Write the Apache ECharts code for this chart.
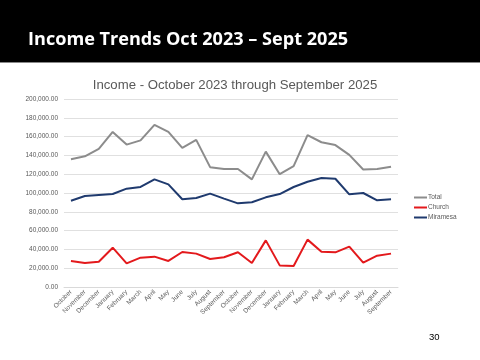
<!DOCTYPE html>
<html><head><meta charset="utf-8">
<script src="https://cdn.jsdelivr.net/npm/echarts@6/dist/echarts.min.js"></script>
<style>html,body{margin:0;padding:0;background:#fff}#c{width:480px;height:360px}</style>
</head><body><div id="c"></div>
<script>
const months = ["October","November","December","January","February","March","April","May","June","July","August","September",
                "October","November","December","January","February","March","April","May","June","July","August","September"];
const total = [136000,139000,147000,165000,151500,156000,172500,165000,148000,156500,127500,125500,125500,114500,144000,120000,128500,161500,154000,151000,140500,125000,125500,128000];
const church = [27700,25500,26900,41800,25200,31200,32300,27700,37200,35500,29800,31600,36900,25500,49600,23000,22300,50400,37600,36900,42900,25900,33300,35500];
const miramesa = [91800,96800,97900,98900,104600,106400,114500,109200,93300,94700,99300,94000,89000,90100,95400,98900,106400,112000,116000,115200,98600,100000,92200,93300];
const yTicks = {min:0, max:200000, interval:20000};

const chart = echarts.init(document.getElementById('c'), null, {renderer:'canvas'});
function fmt(v){return v.toLocaleString('en-US',{minimumFractionDigits:2,maximumFractionDigits:2});}
const lineStyle = (c)=>({type:'line', symbol:'none', lineStyle:{width:2, color:c}, itemStyle:{color:c}});
chart.setOption({
  animation:false,
  backgroundColor:'#fff',
  title:{text:'Income - October 2023 through September 2025', left:230, top:74, textAlign:'center',
    textStyle:{fontFamily:'Liberation Sans', fontSize:13.2, fontWeight:'normal', color:'#595959'}},
  graphic:[
    {type:'rect', shape:{x:0,y:0,width:480,height:62}, style:{fill:'#000'}},
    {type:'rect', shape:{x:0,y:62,width:480,height:1}, style:{fill:'#888'}},
    {type:'text', left:28, top:31, style:{text:'Income Trends Oct 2023 – Sept 2025', fill:'#fff', font:'bold 18.1px "Open Sans"'}},
    {type:'text', left:429, top:332, style:{text:'30', fill:'#000', font:'9.5px "Liberation Sans"'}}
  ],
  legend:{orient:'vertical', left:409, top:189, itemWidth:13, itemHeight:2, itemGap:3, icon:'rect',
    textStyle:{fontFamily:'Liberation Sans', fontSize:6.5, color:'#595959', padding:[0,0,0,-4]},
    data:['Total','Church','Miramesa']},
  grid:{left:64, right:82, top:99, bottom:73},
  xAxis:{type:'category', data:months, boundaryGap:true,
    axisLine:{lineStyle:{color:'#d9d9d9'}}, axisTick:{show:false},
    axisLabel:{rotate:45, interval:0, fontFamily:'Liberation Sans', fontSize:6.5, color:'#595959', margin:4}},
  yAxis:{type:'value', min:yTicks.min, max:yTicks.max, interval:yTicks.interval,
    axisLine:{show:false}, axisTick:{show:false},
    splitLine:{lineStyle:{color:'#e0e0e0', width:1}},
    axisLabel:{formatter:fmt, fontFamily:'Liberation Sans', fontSize:6.5, color:'#595959', margin:6}},
  series:[
    Object.assign({name:'Total', data:total}, lineStyle('#8c8c8c')),
    Object.assign({name:'Church', data:church}, lineStyle('#e3191c')),
    Object.assign({name:'Miramesa', data:miramesa}, lineStyle('#1f3a6e'))
  ]
});
</script></body></html>
